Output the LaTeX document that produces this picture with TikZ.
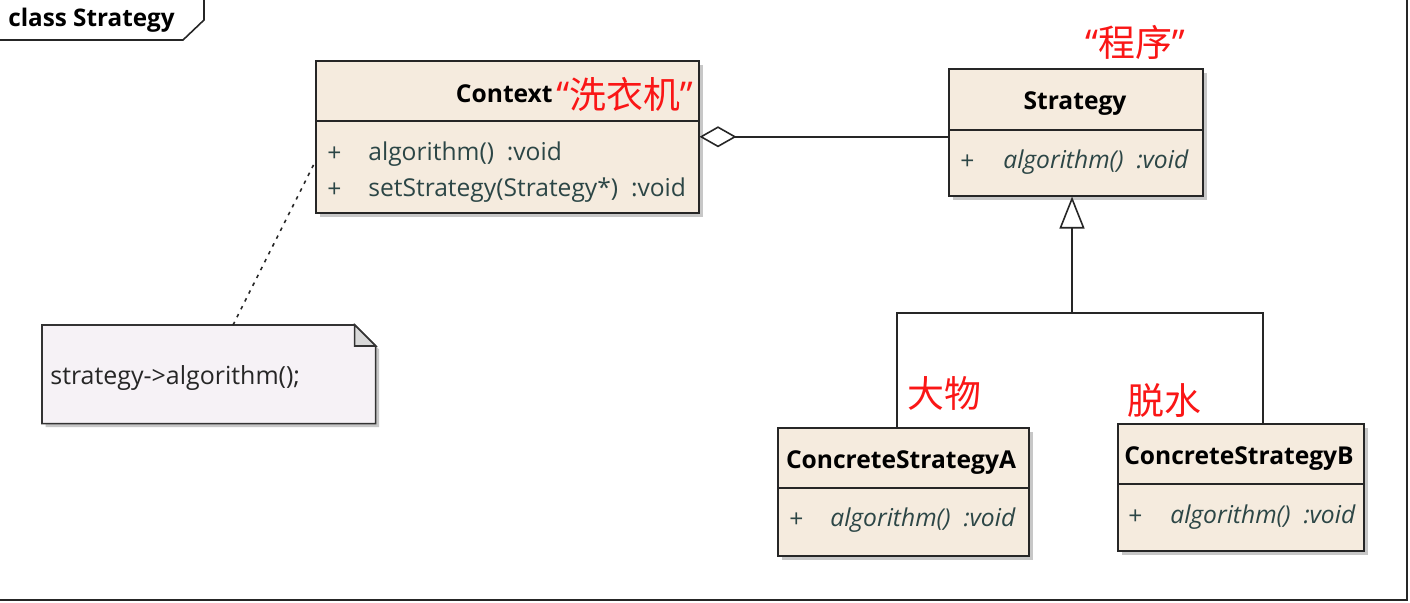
\documentclass[tikz,border=0pt]{standalone}
\usepackage{fontspec}
\setmainfont{Open Sans}
\newfontfamily\cjk{Noto Sans CJK SC}
\usetikzlibrary{positioning, arrows.meta, shadows, calc}

\definecolor{boxfill}{RGB}{245,235,222}
\definecolor{methodtext}{RGB}{44,70,70}
\definecolor{notefill}{RGB}{246,242,246}
\definecolor{remarkred}{RGB}{250,22,22}

\begin{document}
\begin{tikzpicture}[
    x=0.02cm, y=-0.02cm,
    classbox/.style={rectangle, draw=black!85, line width=0.9pt, fill=boxfill, anchor=north west, inner sep=0pt,
        drop shadow={shadow xshift=0.09cm, shadow yshift=-0.09cm, fill=black!22, opacity=1}},
    classname/.style={font=\bfseries\fontsize{14}{16}\selectfont, inner sep=0pt},
    method/.style={font=\fontsize{14}{16}\selectfont, text=methodtext, anchor=west, inner sep=0pt},
    absmethod/.style={method, font=\itshape\fontsize{14}{16}\selectfont},
    remark/.style={font=\fontsize{21}{24}\selectfont, text=remarkred, inner sep=0pt},
    notebox/.style={draw=black!80, line width=0.9pt, fill=notefill,
        drop shadow={shadow xshift=0.07cm, shadow yshift=-0.07cm, fill=black!22, opacity=1}},
    link/.style={draw=black!85, line width=0.9pt}
]
\useasboundingbox (0,0) rectangle (1410,602);
\fill[white] (0,0) rectangle (1410,602);

% frame and tab
\draw[line width=1.4pt, black!85] (1407,0) -- (1407,600) -- (0,600);
\draw[line width=0.9pt, black!85] (0,40) -- (183,40) -- (204,20) -- (204,0);
\node[font=\bfseries\fontsize{13.8}{16}\selectfont, anchor=west, inner sep=0pt] (frametitle) at (8,20) {class Strategy};

% classes
\node[classbox, minimum width=7.66cm, minimum height=3.04cm] (context) at (315,60) {};
\node[classbox, minimum width=5.08cm, minimum height=2.54cm] (strategy) at (948,68) {};
\node[classbox, minimum width=5.02cm, minimum height=2.56cm] (concreteA) at (777,427) {};
\node[classbox, minimum width=4.92cm, minimum height=2.54cm] (concreteB) at (1117,423) {};

\draw[link] ([yshift=-1.22cm]context.north west) -- ([yshift=-1.22cm]context.north east);
\draw[link] ([yshift=-1.24cm]strategy.north west) -- ([yshift=-1.24cm]strategy.north east);
\draw[link] ([yshift=-1.22cm]concreteA.north west) -- ([yshift=-1.22cm]concreteA.north east);
\draw[link] ([yshift=-1.22cm]concreteB.north west) -- ([yshift=-1.22cm]concreteB.north east);

% names
\node[classname, anchor=east] (ctxname) at (553,94) {Context};
\node[classname] (stratname) at (1075,104) {Strategy};
\node[classname] (nameA) at (901,463) {ConcreteStrategyA};
\node[classname] (nameB) at (1239,459) {ConcreteStrategyB};

% members
\node[method] (ctxplus1) at (327,154) {+};
\node[method] (ctxalgo) at (368,154) {algorithm()~~:void};
\node[method] (ctxplus2) at (327,190) {+};
\node[method] (ctxset) at (368,190) {setStrategy(Strategy*)~~:void};
\node[method] (stratplus) at (960,162) {+};
\node[absmethod] (stratalgo) at (1003,162) {algorithm()~~:void};
\node[method] (plusA) at (789,520) {+};
\node[absmethod] (algoA) at (830,520) {algorithm()~~:void};
\node[method] (plusB) at (1128,517) {+};
\node[absmethod] (algoB) at (1170,517) {algorithm()~~:void};

% red remarks
\node[remark, right=0.06cm of ctxname] (washer) {“{\cjk 洗衣机}”};
\node[remark] (program) at (1135,42) {“{\cjk 程序}”};
\node[remark, anchor=west] (bulky) at (907,393) {\cjk 大物};
\node[remark, anchor=west] (spin) at (1127,400) {\cjk 脱水};

% note
\node[minimum width=6.66cm, minimum height=1.96cm, anchor=north west, inner sep=0pt] (note) at (42,325) {};
\draw[notebox] (note.south west) -- (note.north west) -- ([xshift=-0.42cm]note.north east)
    -- ([yshift=-0.42cm]note.north east) -- (note.south east) -- cycle;
\filldraw[draw=black!80, line width=0.9pt, fill=black!15] ([xshift=-0.42cm]note.north east)
    -- ([xshift=-0.42cm, yshift=-0.42cm]note.north east) -- ([yshift=-0.42cm]note.north east) -- cycle;
\node[font=\fontsize{14.2}{16}\selectfont, text=black!85, anchor=west, inner sep=0pt] (notetext) at (50,378) {strategy->algorithm();};

% connectors
\coordinate (notepin) at (233,325);
\coordinate (ctxpin) at (315,162);
\draw[link, dash pattern=on 2pt off 3pt] (notepin) -- (ctxpin);

\draw[link, {Diamond[open, length=0.74cm, width=0.42cm]}-] (context.east) -- (context.east -| strategy.west);

\coordinate (hub) at (1072,313);
\draw[link, line width=1.3pt, -{Triangle[open, length=0.64cm, width=0.5cm, fill=white, line width=0.9pt]}] (hub) -- (hub |- strategy.south);
\draw[link] ([xshift=-0.13cm]concreteA.north) |- (hub) -| ([xshift=0.44cm]concreteB.north);

\end{tikzpicture}
\end{document}
